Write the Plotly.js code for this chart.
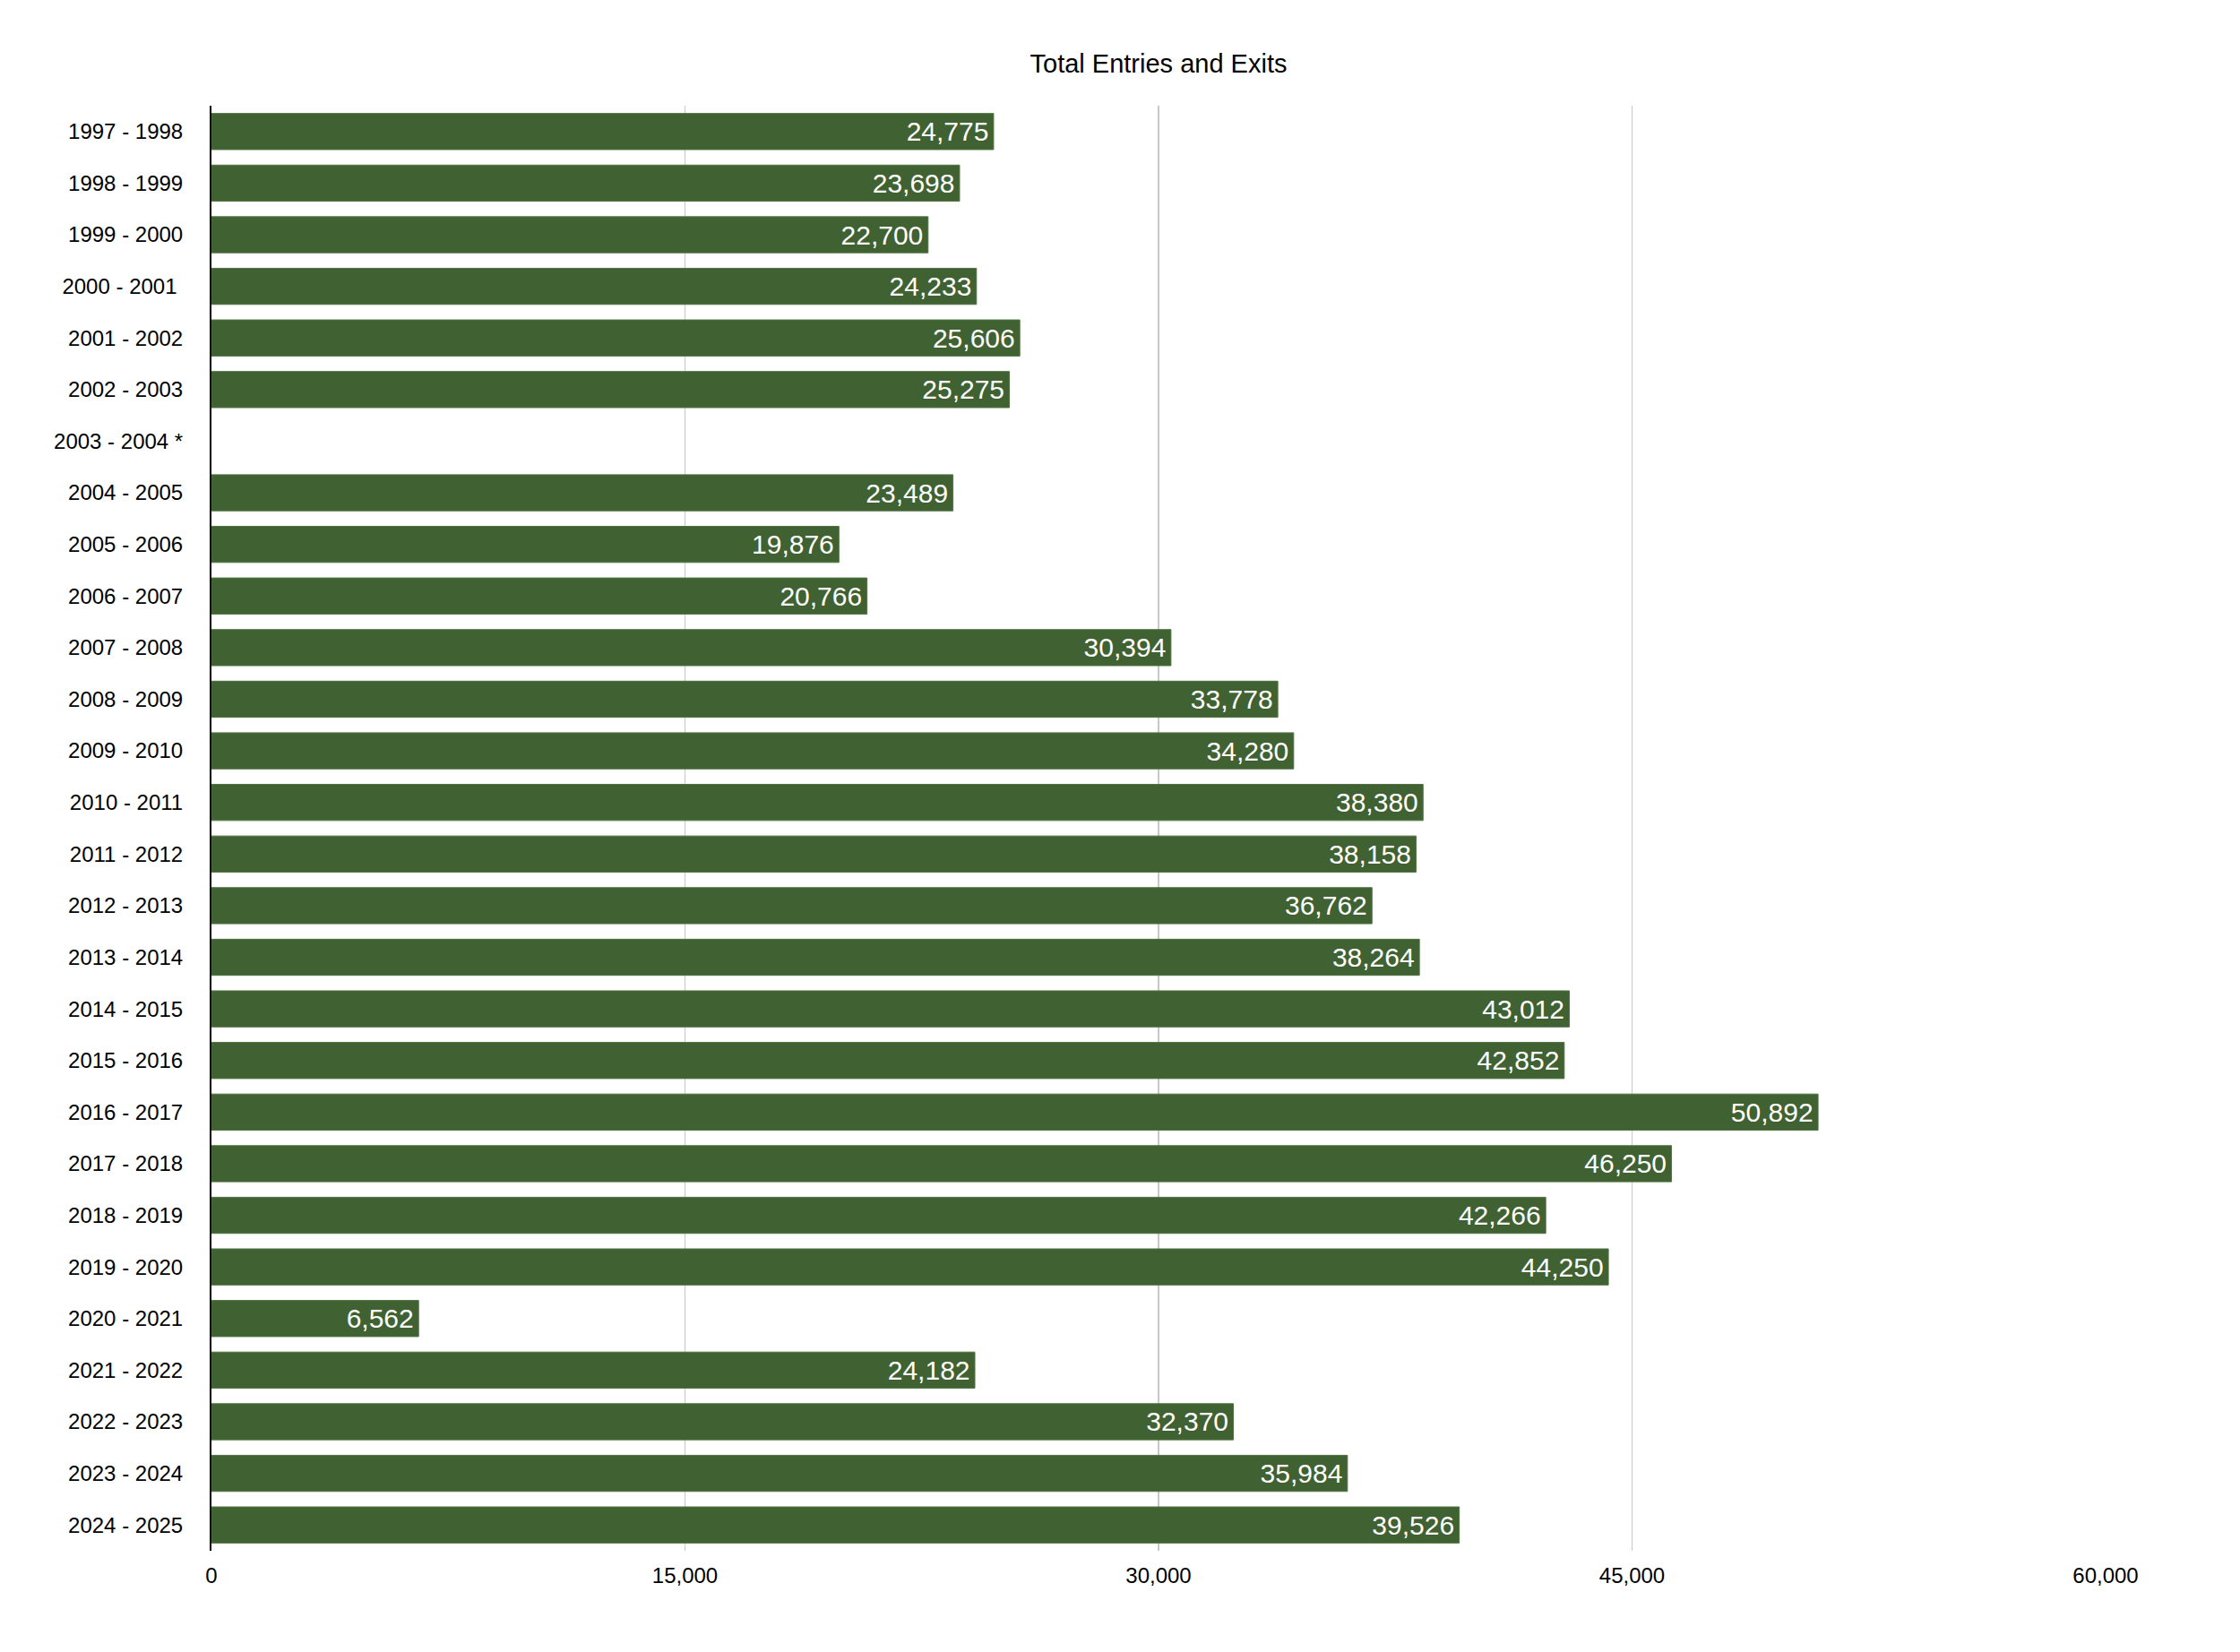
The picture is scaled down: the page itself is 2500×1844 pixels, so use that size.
<!DOCTYPE html>
<html>
<head>
<meta charset="utf-8">
<script src="https://cdn.plot.ly/plotly-3.0.1.min.js"></script>
<style>
  html, body { margin: 0; padding: 0; background: #fff; }
  #plot { width: 2500px; height: 1844px; }
</style>
</head>
<body>
<div id="plot"></div>
<script>
// school years (2003 - 2004 has no figure)
var years = [
  "1997 - 1998", "1998 - 1999", "1999 - 2000", "2000 - 2001\u00a0",
  "2001 - 2002", "2002 - 2003", "2003 - 2004 *", "2004 - 2005",
  "2005 - 2006", "2006 - 2007", "2007 - 2008", "2008 - 2009",
  "2009 - 2010", "2010 - 2011", "2011 - 2012", "2012 - 2013",
  "2013 - 2014", "2014 - 2015", "2015 - 2016", "2016 - 2017",
  "2017 - 2018", "2018 - 2019", "2019 - 2020", "2020 - 2021",
  "2021 - 2022", "2022 - 2023", "2023 - 2024", "2024 - 2025"
];

// total entries and exits per year
var totals = [
  24775, 23698, 22700, 24233, 25606, 25275, null, 23489,
  19876, 20766, 30394, 33778, 34280, 38380, 38158, 36762,
  38264, 43012, 42852, 50892, 46250, 42266, 44250, 6562,
  24182, 32370, 35984, 39526
];

var xTicks = [0, 15000, 30000, 45000, 60000];

var trace = {
  type: "bar",
  orientation: "h",
  y: years,
  x: totals,
  marker: { color: "#406132", line: { color: "#4f7440", width: 1 } },
  // hair space keeps the label a little off the bar end
  texttemplate: "%{x:,d}\u200a",
  textposition: "inside",
  insidetextanchor: "end",
  insidetextfont: { color: "#ffffff", size: 30 },
  hoverinfo: "none"
};

var layout = {
  width: 2500,
  height: 1844,
  margin: { l: 236, r: 150, t: 118, b: 113 },
  paper_bgcolor: "#ffffff",
  plot_bgcolor: "#ffffff",
  font: { family: "Liberation Sans, Arial, sans-serif", color: "#000000", size: 24 },
  title: {
    text: "Total Entries and Exits",
    font: { size: 29, color: "#000000" },
    x: 0.5, xref: "paper", xanchor: "center",
    y: 1 - 71 / 1844, yref: "container", yanchor: "middle"
  },
  bargap: 0.3,
  showlegend: false,
  xaxis: {
    range: [0, 60000],
    tickvals: xTicks,
    tickformat: ",d",
    showgrid: true,
    gridcolor: "#c8c8c8",
    gridwidth: 1.5,
    zeroline: false,
    showline: false,
    ticks: "",
    ticklabelstandoff: 11,
    tickfont: { size: 24 }
  },
  yaxis: {
    autorange: "reversed",
    showgrid: false,
    zeroline: false,
    showline: true,
    linecolor: "#000000",
    linewidth: 2,
    ticks: "",
    ticklabelstandoff: 25,
    tickfont: { size: 24 }
  }
};

Plotly.newPlot("plot", [trace], layout, { displayModeBar: false, staticPlot: true });
</script>
</body>
</html>
